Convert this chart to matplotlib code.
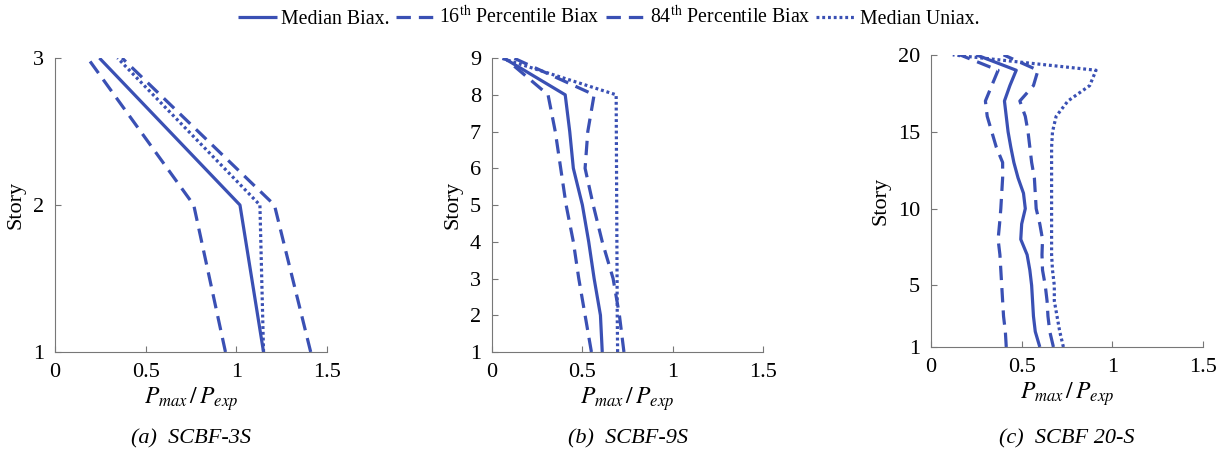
import numpy as np
import matplotlib
matplotlib.use('Agg')
import matplotlib.pyplot as plt

plt.rcParams['font.family'] = ['Liberation Serif', 'DejaVu Serif']
plt.rcParams['mathtext.fontset'] = 'stix'

# SCBF-3S
stories_3 = [1, 2, 3]
med_3 = [1.15, 1.02, 0.245]
p16_3 = [0.94, 0.765, 0.18]
p84_3 = [1.41, 1.21, 0.37]
uni_3 = [1.15, 1.13, 0.345]

# SCBF-9S
stories_9 = [1, 2, 3, 4, 5, 6, 7, 8, 9]
med_9 = [0.61, 0.60, 0.565, 0.535, 0.50, 0.45, 0.43, 0.405, 0.065]
p16_9 = [0.55, 0.515, 0.48, 0.45, 0.41, 0.38, 0.35, 0.31, 0.07]
p84_9 = [0.73, 0.705, 0.67, 0.61, 0.56, 0.515, 0.53, 0.565, 0.12]
uni_9 = [0.695, 0.693, 0.692, 0.691, 0.69, 0.689, 0.688, 0.687, 0.05]

# SCBF 20-S
stories_20 = list(range(1, 21))
med_20 = [0.60, 0.575, 0.565, 0.56, 0.555, 0.545, 0.53, 0.495, 0.50, 0.52,
          0.51, 0.48, 0.457, 0.44, 0.425, 0.415, 0.405, 0.435, 0.47, 0.25]
p16_20 = [0.415, 0.41, 0.40, 0.395, 0.39, 0.385, 0.38, 0.37, 0.378, 0.385,
          0.39, 0.395, 0.395, 0.36, 0.335, 0.31, 0.30, 0.335, 0.37, 0.16]
p84_20 = [0.675, 0.655, 0.645, 0.64, 0.63, 0.615, 0.612, 0.615, 0.60, 0.58,
          0.575, 0.57, 0.555, 0.545, 0.535, 0.52, 0.49, 0.565, 0.59, 0.40]
uni_20 = [0.73, 0.71, 0.695, 0.68, 0.68, 0.67, 0.665, 0.665, 0.665, 0.665,
          0.665, 0.665, 0.665, 0.665, 0.67, 0.69, 0.755, 0.875, 0.91, 0.12]

panels = [
    (stories_3, med_3, p16_3, p84_3, uni_3, [1, 2, 3], '(a)  SCBF-3S'),
    (stories_9, med_9, p16_9, p84_9, uni_9, list(range(1, 10)), '(b)  SCBF-9S'),
    (stories_20, med_20, p16_20, p84_20, uni_20, [1, 5, 10, 15, 20], '(c)  SCBF 20-S'),
]
positions = [
    [0.0452, 0.2264, 0.2235, 0.646],
    [0.4043, 0.2264, 0.2227, 0.646],
    [0.765, 0.2374, 0.2235, 0.642],
]

col = '#3a50b4'
lw = 2.3

fig = plt.figure(figsize=(12.17, 4.55), dpi=100)
for (st, med, p16, p84, uni, yt, cap), pos in zip(panels, positions):
    ax = fig.add_axes(pos)
    h1, = ax.plot(med, st, color=col, lw=lw, solid_capstyle='butt')
    h2, = ax.plot(p16, st, color=col, lw=lw, dashes=(4.5, 2.5))
    h3, = ax.plot(p84, st, color=col, lw=lw, dashes=(4.5, 2.5))
    h4, = ax.plot(uni, st, color=col, lw=lw, dashes=(0.9, 0.9))
    ax.set_xlim(0, 1.5)
    ax.set_ylim(yt[0], yt[-1])
    ax.set_xticks([0, 0.5, 1, 1.5])
    ax.set_xticklabels(['0', '0.5', '1', '1.5'])
    ax.set_yticks(yt)
    ax.spines['top'].set_visible(False)
    ax.spines['right'].set_visible(False)
    for s in ['left', 'bottom']:
        ax.spines[s].set_color('#777777')
        ax.spines[s].set_linewidth(0.8)
    ax.tick_params(direction='in', length=4, color='#777777', labelsize=16,
                   pad=8)
    ax.set_xlabel(r'$P_{max}\,/\,P_{exp}$', fontsize=17, labelpad=2)
    ax.set_ylabel('Story', fontsize=16, labelpad=5)
    fig.text(pos[0] + pos[2] / 2, 0.035, cap, ha='center', va='center',
             fontsize=16, style='italic')

fig.legend([h1, h2, h3, h4],
           ['Median Biax.', r'16$^{\mathrm{th}}$ Percentile Biax',
            r'84$^{\mathrm{th}}$ Percentile Biax', 'Median Uniax.'],
           loc='upper center', bbox_to_anchor=(0.5, 1.025), ncol=4,
           frameon=False, fontsize=14.3, handlelength=2.0, handletextpad=0.2,
           columnspacing=0.3)

fig.savefig('out.png', dpi=100)
